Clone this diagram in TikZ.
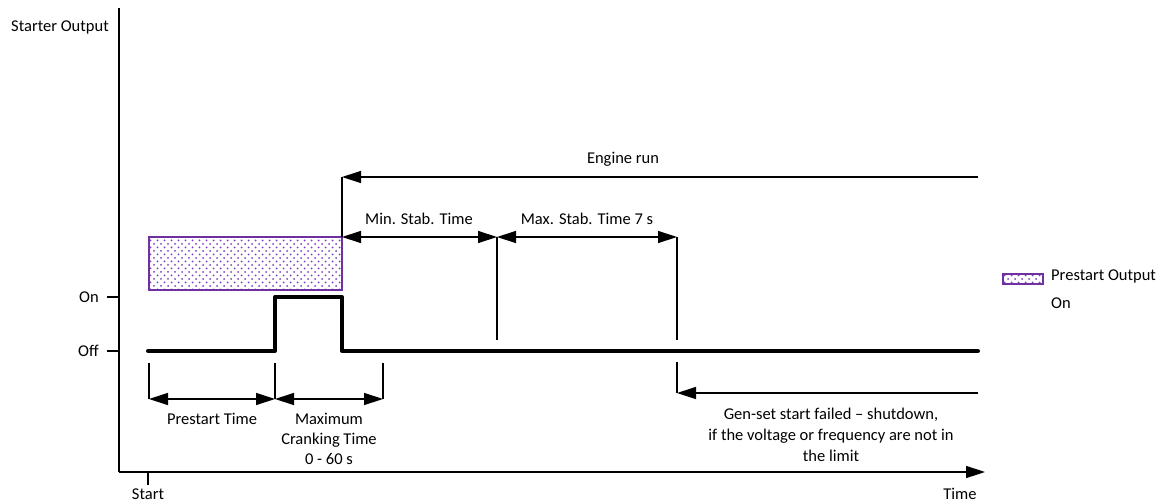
\documentclass[tikz,border=0pt]{standalone}
\usepackage{fontspec}
\setmainfont{Carlito}
\usetikzlibrary{arrows.meta,patterns.meta}
\definecolor{prepurple}{HTML}{7030A0}
\definecolor{dotpurple}{HTML}{7A3CC0}
\begin{document}
\begin{tikzpicture}[x=1pt,y=-1pt,
  lbl/.style={inner sep=0pt,font=\fontsize{16.5}{20}\selectfont},
  thin/.style={line width=1.3pt},
  axisline/.style={line width=1.5pt},
  sig/.style={line width=4pt,line cap=round,line join=round},
  arr/.style={thin,-{Triangle[length=19pt,width=12pt]}},
  darr/.style={thin,{Triangle[length=19pt,width=12pt]}-{Triangle[length=19pt,width=12pt]}},
  dotsA/.style={pattern={Dots[distance=7pt,radius=1pt]},pattern color=dotpurple},
  dotsB/.style={pattern={Dots[distance=7pt,radius=1pt,xshift=3.5pt,yshift=3.5pt]},pattern color=dotpurple},
  prebox/.style={draw=prepurple,line width=1.4pt}
]
\useasboundingbox (0,0) rectangle (1166,503);
% axes
\coordinate (ytop) at (119,8);
\coordinate (orig) at (119,472);
\coordinate (xend) at (985,472);
\draw[axisline] (ytop) -- (orig);
\draw[axisline,-{Triangle[length=19pt,width=12pt]}] (orig) -- (xend);
\node[lbl] (ylab) at (60,27) {Starter Output};
% ticks
\coordinate (onL) at (107,297); \coordinate (onR) at (119,297);
\coordinate (offL) at (107,351); \coordinate (offR) at (119,351);
\draw[axisline] (onL) -- (onR);
\draw[axisline] (offL) -- (offR);
\node[lbl,anchor=east] (onlab) at (99,297) {On};
\node[lbl,anchor=east] (offlab) at (99,351) {Off};
\coordinate (stT) at (148,472); \coordinate (stB) at (148,485);
\draw[thin] (stT) -- (stB);
\node[lbl] (startlab) at (148,494) {Start};
\node[lbl] (timelab) at (960,494) {Time};
% prestart box
\path[dotsA] (149,237) rectangle (342,290);
\path[dotsB] (149,237) rectangle (342,290);
\draw[prebox] (149,237) rectangle (342,290);
\coordinate (boxTR) at (342,237);
% signal
\coordinate (s0) at (148,351);
\coordinate (s1) at (275,351);
\coordinate (s2) at (275,297);
\coordinate (s3) at (342,297);
\coordinate (s4) at (342,351);
\coordinate (s5) at (978,351);
\draw[sig] (s0) -- (s1) -- (s2) -- (s3) -- (s4) -- (s5);
% engine run
\coordinate (erR) at (978,177);
\coordinate (erL) at (342,177);
\draw[thin] (boxTR) -- (erL);
\draw[arr] (erR) -- (erL);
\node[lbl] (erlab) at (623,159) {Engine run};
% stab times
\coordinate (m1) at (497,237); \coordinate (m1b) at (497,340);
\coordinate (m2) at (677,237); \coordinate (m2b) at (677,340);
\draw[thin] (m1) -- (m1b);
\draw[thin] (m2) -- (m2b);
\draw[darr] (boxTR) -- (m1);
\draw[darr] (m1) -- (m2);
\node[lbl] (minlab) at (419,219) {Min. Stab. Time};
\node[lbl] (maxlab) at (587,219) {Max. Stab. Time 7 s};
% bottom dimension lines
\coordinate (d0t) at (149,363); \coordinate (d0) at (149,399);
\coordinate (d1t) at (275,363); \coordinate (d1) at (275,399);
\coordinate (d2t) at (383,363); \coordinate (d2) at (383,399);
\draw[thin] (d0t) -- (d0);
\draw[thin] (d1t) -- (d1);
\draw[thin] (d2t) -- (d2);
\draw[darr] (d0) -- (d1);
\draw[darr] (d1) -- (d2);
\node[lbl] (prelab) at (212,419) {Prestart Time};
\node[lbl,align=center] (cranklab) at (329,439) {Maximum\\Cranking Time\\0 - 60 s};
% gen-set failed
\coordinate (gft) at (677,362); \coordinate (gf) at (677,393);
\coordinate (gfR) at (978,393);
\draw[thin] (gft) -- (gf);
\draw[arr] (gfR) -- (gf);
\node[lbl,align=center,font=\fontsize{16.5}{21}\selectfont] (gflab) at (831,435) {Gen-set start failed -- shutdown,\\if the voltage or frequency are not in\\the limit};
% legend
\path[dotsA] (1003,274) rectangle (1043,284);
\path[dotsB] (1003,274) rectangle (1043,284);
\draw[prebox] (1003,274) rectangle (1043,284);
\node[lbl,anchor=north west,align=left,font=\fontsize{16.5}{28}\selectfont] (leglab) at (1051,270) {Prestart Output\\On};
\end{tikzpicture}
\end{document}
